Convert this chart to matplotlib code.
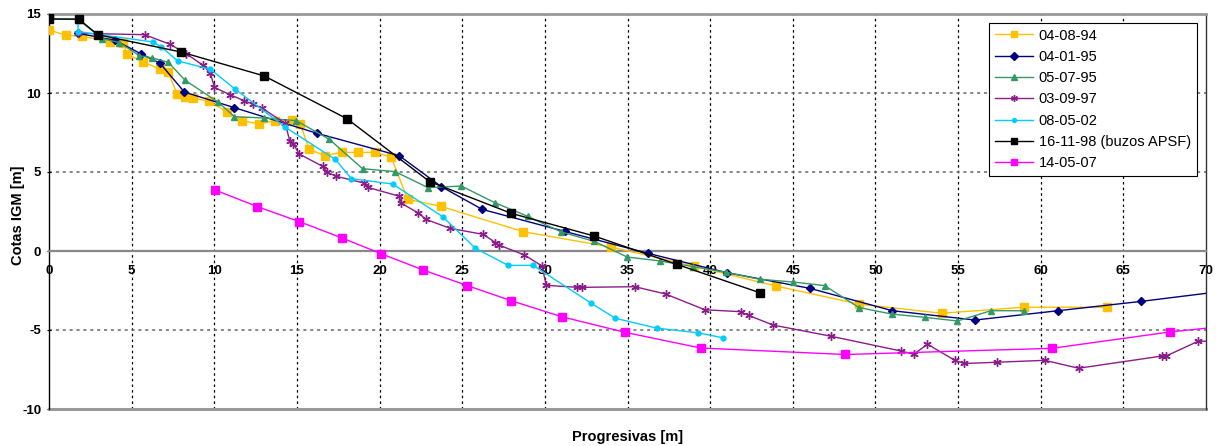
import matplotlib
matplotlib.use("Agg")
import matplotlib.pyplot as plt

# ---------------- data ----------------
x_940804 = [0, 1.0, 2.0, 3.7, 4.5, 4.7, 5.7, 6.7, 7.2, 7.75, 8.2, 8.7, 9.7, 10.75, 11.7, 12.7,
            13.7, 14.7, 15.2, 15.75, 16.7, 17.7, 18.7, 19.7, 20.7, 21.7, 23.7, 28.7, 34.0,
            39.0, 44.0, 49.0, 54.0, 59.0, 64.0]
y_940804 = [14.0, 13.65, 13.6, 13.23, 13.16, 12.47, 11.96, 11.52, 11.33, 9.96, 9.75, 9.68, 9.47,
            8.82, 8.25, 8.04, 8.25, 8.27, 8.04, 6.43, 6.03, 6.24, 6.24, 6.24, 5.95, 3.27, 2.83,
            1.22, 0.25, -0.95, -2.22, -3.36, -3.94, -3.56, -3.56]

x_950104 = [1.76, 4.0, 5.55, 6.72, 8.19, 11.22, 16.21, 21.19, 23.74, 26.22, 31.2, 36.24,
            41.0, 46.02, 51.03, 56.03, 61.04, 66.07, 71.0]
y_950104 = [13.78, 13.33, 12.49, 11.88, 10.06, 9.07, 7.45, 6.03, 4.07, 2.63, 1.24, -0.15,
            -1.37, -2.36, -3.78, -4.37, -3.78, -3.19, -2.55]

x_950705 = [0, 1.76, 3.23, 4.26, 5.47, 6.26, 7.22, 8.24, 10.25, 11.22, 12.98, 14.96, 16.96,
            18.97, 20.95, 22.93, 24.95, 26.97, 28.97, 30.96, 32.98, 34.98, 36.96, 38.98,
            40.98, 43.0, 45.01, 46.93, 49.0, 50.99, 52.98, 54.96, 56.98, 58.96]
y_950705 = [14.7, 14.65, 13.44, 13.19, 12.36, 12.22, 11.94, 10.8, 9.41, 8.5, 8.42, 8.25, 7.07,
            5.21, 5.02, 4.01, 4.11, 3.06, 2.19, 1.22, 0.61, -0.38, -0.63, -0.99, -1.35,
            -1.79, -1.96, -2.19, -3.58, -3.99, -4.2, -4.43, -3.78, -3.78]

x_970903 = [1.76, 5.79, 7.33, 8.28, 9.33, 9.77, 10.01, 10.96, 11.81, 12.37, 12.88, 14.29,
            14.57, 14.79, 15.14, 16.55, 16.83, 17.34, 19.07, 19.28, 21.18, 21.32, 22.35,
            22.81, 24.28, 26.28, 27.01, 27.21, 28.76, 29.83, 30.08, 31.95, 32.25, 35.44,
            37.3, 39.68, 41.84, 42.33, 43.82, 47.29, 51.55, 52.32, 53.15, 54.82, 55.37,
            57.35, 60.25, 62.29, 67.32, 67.58, 69.53, 71.0]
y_970903 = [13.78, 13.69, 13.08, 12.5, 11.75, 11.24, 10.35, 9.89, 9.51, 9.28, 9.05, 8.08,
            6.96, 6.77, 6.14, 5.36, 5.0, 4.74, 4.3, 4.03, 3.47, 3.02, 2.4, 2.0, 1.43, 1.05,
            0.53, 0.38, -0.25, -0.95, -2.17, -2.3, -2.3, -2.26, -2.72, -3.72, -3.84, -4.08,
            -4.69, -5.39, -6.33, -6.54, -5.9, -6.93, -7.12, -7.04, -6.92, -7.42, -6.65,
            -6.65, -5.71, -5.71]

x_020508 = [1.76, 1.76, 6.3, 6.78, 7.79, 9.77, 11.28, 14.29, 17.32, 18.29, 20.79, 23.82,
            25.8, 27.78, 29.29, 32.8, 34.27, 36.76, 39.28, 40.8]
y_020508 = [14.6, 13.88, 13.23, 12.93, 12.03, 11.5, 10.23, 7.84, 5.8, 4.58, 4.24, 2.17,
            0.17, -0.91, -0.91, -3.3, -4.26, -4.88, -5.18, -5.5]

x_981116 = [0, 0, 1.8, 2.95, 7.97, 13.02, 18.03, 23.03, 27.98, 32.98, 37.97, 43.0]
y_981116 = [15.0, 14.68, 14.68, 13.69, 12.6, 11.08, 8.37, 4.39, 2.38, 0.95, -0.84, -2.64]

x_070514 = [10.05, 12.6, 15.14, 17.74, 20.09, 22.63, 25.31, 27.98, 31.02, 34.82, 39.42,
            48.18, 60.68, 67.84, 71.0]
y_070514 = [3.86, 2.81, 1.86, 0.82, -0.17, -1.2, -2.19, -3.15, -4.16, -5.14, -6.14,
            -6.55, -6.16, -5.12, -4.78]

series = [
    ("04-08-94", x_940804, y_940804, "#FFC000", "s", 5.5),
    ("04-01-95", x_950104, y_950104, "#000080", "D", 4.5),
    ("05-07-95", x_950705, y_950705, "#339966", "^", 5.0),
    ("03-09-97", x_970903, y_970903, "#8B1C8B", (6, 2, 0), 6.0),
    ("08-05-02", x_020508, y_020508, "#00CCFF", "o", 3.5),
    ("16-11-98 (buzos APSF)", x_981116, y_981116, "#000000", "s", 6.0),
    ("14-05-07", x_070514, y_070514, "#FF00FF", "s", 6.0),
]

x_ticks = list(range(0, 71, 5))
y_ticks = [-10, -5, 0, 5, 10, 15]

# ---------------- figure ----------------
plt.rcParams['font.family'] = ['Liberation Sans', 'DejaVu Sans']
plt.rcParams['axes.unicode_minus'] = False
fig = plt.figure(figsize=(12.18, 4.46), dpi=100)
ax = fig.add_axes([49 / 1218, 1 - 409 / 446, (1206 - 49) / 1218, (409 - 14) / 446])

for label, xs, ys, col, mk, ms in series:
    ax.plot(xs, ys, color=col, lw=1.0, marker=mk, ms=ms, mec=col, mfc=col,
            mew=1.0, label=label, clip_on=True, zorder=3)

ax.set_xlim(0, 70)
ax.set_ylim(-10, 15)
ax.set_xticks(x_ticks)
ax.set_yticks(y_ticks)

# grid
for xv in x_ticks[1:-1]:
    ax.axvline(xv, color="#000000", lw=0.9, ls=(0, (2, 2.5)), zorder=1)
for yv in [-5, 5, 10]:
    ax.axhline(yv, color="#666666", lw=1.1, ls=(0, (2, 2.5)), zorder=1)
ax.axhline(-10, color="#999999", lw=2.2, zorder=2, clip_on=False)

# spines
ax.spines['bottom'].set_position(('data', 0))
ax.spines['bottom'].set_color("#888888")
ax.spines['bottom'].set_linewidth(1.6)
ax.spines['top'].set_color("#999999")
ax.spines['top'].set_linewidth(2.0)
ax.spines['right'].set_color("#333333")
ax.spines['right'].set_linewidth(1.0)
ax.spines['left'].set_color("#000000")
ax.spines['left'].set_linewidth(1.0)

ax.tick_params(axis='x', length=0, pad=10, labelsize=9.5)
ax.tick_params(axis='y', length=3, direction='inout', pad=4, labelsize=9.5)
for t in ax.get_xticklabels() + ax.get_yticklabels():
    t.set_fontweight('bold')

ax.set_ylabel("Cotas IGM [m]", fontsize=10.5, fontweight='bold')
ax.yaxis.set_label_coords((25 - 49) / 1157, 0.49)
fig.text(627.5 / 1218, 1 - 437 / 446, "Progresivas [m]", ha='center', va='center',
         fontsize=10.5, fontweight='bold')

leg = ax.legend(loc='upper right', bbox_to_anchor=(0.992, 0.978), fontsize=10.5,
                frameon=True, fancybox=False, edgecolor="#000000", framealpha=1,
                borderpad=0.4, labelspacing=0.5, handlelength=2.6, handletextpad=0.4,
                borderaxespad=0)
leg.get_frame().set_linewidth(0.8)
for h in leg.legend_handles:
    h.set_markersize(h.get_markersize() * 0.8)

fig.savefig("out.png", dpi=100)
